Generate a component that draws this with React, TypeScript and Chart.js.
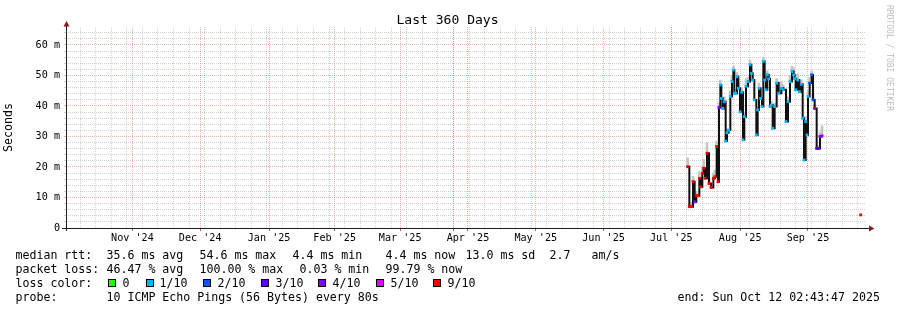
import React, { useEffect, useRef } from "react";
import { Chart, registerables } from "chart.js";

Chart.register(...registerables);

// ---------- data ----------
const WINDOW_START = "2024-10-17T02:43:47Z"; // end time minus 360 days
const WINDOW_DAYS = 360;
const FIRST_SUNDAY = "2024-10-20";

const monthStarts = [
  "2024-11-01", "2024-12-01", "2025-01-01", "2025-02-01", "2025-03-01", "2025-04-01",
  "2025-05-01", "2025-06-01", "2025-07-01", "2025-08-01", "2025-09-01", "2025-10-01",
];
// label i sits in the middle of month i (between monthStarts[i] and monthStarts[i+1])
const monthLabels = [
  "Nov '24", "Dec '24", "Jan '25", "Feb '25", "Mar '25", "Apr '25",
  "May '25", "Jun '25", "Jul '25", "Aug '25", "Sep '25",
];

const yMajorValues = [0, 10, 20, 30, 40, 50, 60];
const yMajorLabels = ["0", "10 m", "20 m", "30 m", "40 m", "50 m", "60 m"];
const Y_MAX = 65.9;

// sample time: days after window start
const sampleDay = [
  279.75, 280.5, 281.4, 282.15, 282.9, 283.65, 284.4, 285.0, 285.6, 286.35,
  286.95, 287.55, 288.45, 289.35, 290.25, 291.3, 292.05, 292.8, 293.4, 293.85,
  294.45, 294.9, 295.5, 296.25, 296.85, 297.45, 298.2, 298.95, 299.7, 300.3,
  300.75, 301.35, 301.95, 302.55, 303.3, 304.05, 304.65, 305.25, 306.0, 306.9,
  307.8, 308.4, 309.0, 309.75, 310.65, 311.25, 311.85, 312.6, 313.2, 313.8,
  314.4, 315.0, 315.6, 316.2, 316.8, 317.4, 318.0, 318.9, 319.8, 320.7,
  321.9, 322.8, 324.0, 324.9, 325.8, 326.7, 327.45, 327.9, 328.35, 329.25,
  330.0, 330.9, 331.5, 332.1, 332.85, 333.45, 333.9, 334.65, 335.55, 336.15,
  336.9, 337.8, 338.7, 339.3, 340.2, 348.0, 357.6,
];
// median rtt in ms
const medianMs = [
  20.1, 7.0, 7.0, 15.2, 8.6, 10.6, 10.6, 16.3, 13.5, 17.9,
  19.6, 16.3, 24.5, 14.6, 13.3, 16.3, 16.8, 26.7, 15.2, 39.5,
  46.9, 42.5, 39.2, 41.4, 28.5, 31.2, 32.1, 43.1, 48.0, 51.8,
  44.2, 44.2, 49.6, 45.8, 38.1, 44.5, 28.9, 36.5, 46.5, 48.0,
  53.5, 50.7, 48.5, 42.0, 30.5, 38.7, 45.8, 42.5, 39.8, 54.6,
  48.5, 45.3, 50.2, 48.9, 39.8, 40.3, 32.7, 39.8, 47.5, 44.2,
  45.8, 45.3, 34.9, 41.4, 48.0, 51.3, 50.2, 49.0, 45.3, 48.5,
  44.7, 47.1, 36.0, 22.3, 34.9, 30.5, 43.1, 47.5, 50.2, 42.0,
  39.2, 26.1, 26.1, 30.0, 30.2, null, 4.3,
];
// upper edge of the light smoke (ms)
const smokeHighMs = [
  23.0, null, 8.5, 17.0, null, 12.0, null, 18.5, 15.0, 20.0,
  22.5, null, 28.0, 16.0, null, 18.0, 19.0, 28.5, null, 41.0,
  48.5, null, 40.5, 43.0, null, 32.5, null, 45.0, 50.0, 53.0,
  null, 45.5, 51.0, 47.5, null, 46.0, null, 38.0, 49.0, 49.5,
  55.0, 52.5, 50.0, null, null, 40.0, 47.5, null, null, 56.0,
  50.0, 47.0, 51.5, 50.5, null, 41.5, null, 41.0, 49.0, 46.5,
  48.0, 47.0, null, 43.0, 50.0, 53.0, 52.5, 50.5, 47.0, 50.5,
  46.0, 48.5, null, null, 36.5, null, 45.0, 49.5, 51.5, 44.0,
  40.5, null, 27.0, 31.5, 33.5, null, null,
];
// packet loss in tenths (10 pings)
const lossTenths = [
  9, 9, 9, 9, 4, 9, 9, 9, 9, 9,
  9, 9, 9, 9, 9, 9, 9, 9, 9, 4,
  1, 1, 1, 1, 1, 1, 1, 1, 1, 1,
  1, 1, 1, 1, 1, 1, 1, 1, 1, 1,
  1, 1, 1, 1, 1, 1, 1, 1, 1, 1,
  1, 1, 1, 1, 1, 1, 1, 1, 1, 1,
  1, 1, 1, 1, 1, 1, 1, 1, 1, 1,
  1, 1, 1, 1, 1, 1, 1, 2, 2, 2,
  4, 3, 3, 4, 4, null, 9,
];

const lossBucketLabels = ["0", "1/10", "2/10", "3/10", "4/10", "5/10", "9/10"];
const lossBucketLevels = [0, 1, 2, 3, 4, 5, 9];
const lossBucketColors = ["#26ff00", "#00b8ff", "#0059ff", "#5e00ff", "#7e00ff", "#dd00ff", "#ff0000"];

const titleText = "Last 360 Days";
const yTitle = "Seconds";
const watermark = "RRDTOOL / TOBI OETIKER";
const rttTexts = ["median rtt:", "35.6 ms avg", "54.6 ms max", "4.4 ms min", "4.4 ms now", "13.0 ms sd", "2.7", "am/s"];
const lossTexts = ["packet loss:", "46.47 % avg", "100.00 % max", "0.03 % min", "99.79 % now"];
const lossColorTitle = "loss color:";
const probeTexts = ["probe:", "10 ICMP Echo Pings (56 Bytes) every 80s"];
const endText = "end: Sun Oct 12 02:43:47 2025";

// ---------- layout / style ----------
const MONO = '"DejaVu Sans Mono", monospace';
const GRID = "rgba(143,143,143,0.4)";
const MGRID = "rgba(222,80,80,0.45)";
const ROW_TOP = [247.5, 261.5, 275.5, 289.5];
const RTT_X = [15.5, 106.5, 199.5, 292.5, 385.5, 465.5, 549.5, 591.5];
const LOSS_X = [15.5, 106.5, 199.5, 299.5, 385.5];
const BOX_X = [108, 145.5, 203, 260.5, 318, 376, 433];
const BOX_LABEL_X = [122.5, 159.5, 217.5, 275.5, 332.5, 390.5, 447.5];
const PROBE_X = [15.5, 106.5];
const END_X = 677.5;

const startMs = Date.parse(WINDOW_START);
const dayOf = (iso: string) => (Date.parse(iso + "T00:00:00Z") - startMs) / 86400000;

type XTick = { value: number; kind: "week" | "month" | "label"; label: string };
function buildXTicks(): XTick[] {
  const t: XTick[] = [];
  for (let d = dayOf(FIRST_SUNDAY); d <= WINDOW_DAYS; d += 7) t.push({ value: d, kind: "week", label: "" });
  monthLabels.forEach((lab, i) => {
    const mid = (dayOf(monthStarts[i]) + dayOf(monthStarts[i + 1])) / 2;
    if (mid > 0 && mid < WINDOW_DAYS) t.push({ value: mid, kind: "label", label: lab });
  });
  monthStarts.forEach((m) => {
    const d = dayOf(m);
    if (d > 0 && d < WINDOW_DAYS) t.push({ value: d, kind: "month", label: "" });
  });
  return t;
}

const decorPlugin = {
  id: "rrdDecor",
  afterDraw(chart: any) {
    const ctx = chart.ctx as CanvasRenderingContext2D;
    const { left, right, top, bottom } = chart.chartArea;
    ctx.save();
    ctx.strokeStyle = "#1f1f1f";
    ctx.lineWidth = 1;
    ctx.beginPath();
    ctx.moveTo(left - 4, bottom + 0.5);
    ctx.lineTo(right + 3, bottom + 0.5);
    ctx.stroke();
    ctx.beginPath();
    ctx.moveTo(left + 0.5, bottom + 3);
    ctx.lineTo(left + 0.5, top - 1);
    ctx.stroke();
    ctx.fillStyle = "#7f1f1f";
    ctx.beginPath();
    ctx.moveTo(right + 3, bottom + 0.5 - 3);
    ctx.lineTo(right + 8.5, bottom + 0.5);
    ctx.lineTo(right + 3, bottom + 0.5 + 3);
    ctx.closePath();
    ctx.fill();
    ctx.beginPath();
    ctx.moveTo(left + 0.5 - 3, top - 0.5);
    ctx.lineTo(left + 0.5, top - 6);
    ctx.lineTo(left + 0.5 + 3, top - 0.5);
    ctx.closePath();
    ctx.fill();
    // title
    ctx.fillStyle = "#000";
    ctx.font = `13.05px ${MONO}`;
    ctx.textAlign = "center";
    ctx.textBaseline = "alphabetic";
    ctx.fillText(titleText, 447.5, 23.5);
    // watermark
    ctx.translate(893, 5);
    ctx.rotate(Math.PI / 2);
    ctx.fillStyle = "rgba(0,0,0,0.28)";
    ctx.font = `8px ${MONO}`;
    ctx.textAlign = "left";
    ctx.textBaseline = "top";
    ctx.fillText(watermark, 0, 0);
    ctx.restore();
  },
};

export default function App() {
  const ref = useRef<HTMLCanvasElement>(null);
  useEffect(() => {
    const xTicks = buildXTicks();
    const yTickValues: number[] = [];
    for (let v = 0; v <= 64; v += 2) yTickValues.push(v);
    const colorOf = (lvl: number) => lossBucketColors[lossBucketLevels.indexOf(lvl)];

    const linePts = sampleDay.map((d, i) => ({ x: d, y: medianMs[i] }));
    const markIdx = sampleDay.map((_, i) => i).filter((i) => medianMs[i] !== null && lossTenths[i] !== null);
    const markPts = markIdx.map((i) => ({ x: sampleDay[i], y: medianMs[i] }));
    const markColors = markIdx.map((i) => colorOf(lossTenths[i] as number));
    const smokeIdx = sampleDay.map((_, i) => i).filter((i) => smokeHighMs[i] !== null && medianMs[i] !== null);
    const smokePts = smokeIdx.map((i) => ({ x: sampleDay[i], y: [medianMs[i] as number, smokeHighMs[i] as number] }));

    const tickFont = { family: MONO, size: 10.15 };
    const chart = new Chart(ref.current as HTMLCanvasElement, {
      type: "line",
      data: {
        datasets: [
          {
            type: "line",
            data: markPts,
            showLine: false,
            pointStyle: "rect",
            pointRadius: 2,
            pointBorderWidth: 0,
            pointBackgroundColor: markColors,
            pointBorderColor: markColors,
            order: 0,
          } as any,
          {
            type: "line",
            data: linePts,
            borderColor: "#111111",
            borderWidth: 2,
            pointRadius: 0,
            stepped: "before",
            spanGaps: false,
            order: 1,
          } as any,
          {
            type: "bar",
            data: smokePts,
            backgroundColor: "#c6c6c6",
            borderWidth: 0,
            barThickness: 2,
            order: 2,
          } as any,
        ],
      },
      options: {
        animation: false,
        responsive: false,
        maintainAspectRatio: false,
        events: [],
        layout: { padding: { left: 0, right: 31, top: 27, bottom: 0 } },
        plugins: { legend: { display: false }, tooltip: { enabled: false }, title: { display: false } },
        scales: {
          x: {
            type: "linear",
            min: 0,
            max: WINDOW_DAYS,
            offset: false,
            afterBuildTicks: (s: any) => {
              s.ticks = xTicks.map((t) => ({ value: t.value }));
            },
            afterFit: (s: any) => {
              s.height = 82;
            },
            ticks: {
              autoSkip: false,
              maxRotation: 0,
              minRotation: 0,
              padding: 1,
              color: "#000",
              font: tickFont,
              callback: (_v: any, i: number) => (xTicks[i] ? xTicks[i].label : ""),
            },
            grid: {
              lineWidth: 1,
              drawTicks: true,
              tickLength: 3,
              color: (c: any) => {
                const t = xTicks[c.index];
                if (!t) return "rgba(0,0,0,0)";
                return t.kind === "month" ? MGRID : t.kind === "week" ? GRID : "rgba(0,0,0,0)";
              },
              tickColor: (c: any) => {
                const t = xTicks[c.index];
                if (!t) return "rgba(0,0,0,0)";
                return t.kind === "month" ? "rgba(160,60,60,0.8)" : "rgba(0,0,0,0)";
              },
            },
            border: { display: false, dash: [1, 1] },
          } as any,
          y: {
            type: "linear",
            min: 0,
            max: Y_MAX,
            afterBuildTicks: (s: any) => {
              s.ticks = yTickValues.map((v) => ({ value: v }));
            },
            afterFit: (s: any) => {
              s.width = 66;
            },
            ticks: {
              autoSkip: false,
              padding: 4,
              color: "#000",
              font: tickFont,
              callback: (v: any) => {
                const k = yMajorValues.indexOf(Number(v));
                return k >= 0 ? yMajorLabels[k] : "";
              },
            },
            grid: {
              lineWidth: 1,
              drawTicks: true,
              tickLength: 2,
              color: (c: any) => (c.tick && c.tick.value % 10 === 0 ? MGRID : GRID),
              tickColor: (c: any) => (c.tick && c.tick.value % 10 === 0 ? MGRID : GRID),
            },
            border: { display: false, dash: [1, 1] },
            title: {
              display: true,
              text: yTitle,
              color: "#000",
              font: { family: MONO, size: 11.6 },
              padding: { top: 2, bottom: 0 },
            },
          } as any,
        },
      },
      plugins: [decorPlugin],
    } as any);
    return () => chart.destroy();
  }, []);

  const rowStyle = (top: number, left: number): React.CSSProperties => ({
    position: "absolute",
    top,
    left,
    whiteSpace: "pre",
    lineHeight: "14px",
    fontSize: "11.6px",
    fontFamily: MONO,
    color: "#000",
  });

  return (
    <div style={{ position: "absolute", left: 0, top: 0, width: 897, height: 310, background: "#fff", overflow: "hidden" }}>
      <canvas ref={ref} width={897} height={310} style={{ position: "absolute", left: 0, top: 0, width: 897, height: 310 }} />
      {rttTexts.map((t, i) => (
        <span key={"r" + i} style={rowStyle(ROW_TOP[0], RTT_X[i])}>{t}</span>
      ))}
      {lossTexts.map((t, i) => (
        <span key={"l" + i} style={rowStyle(ROW_TOP[1], LOSS_X[i])}>{t}</span>
      ))}
      <span style={rowStyle(ROW_TOP[2], 15.5)}>{lossColorTitle}</span>
      {lossBucketLabels.map((t, i) => (
        <React.Fragment key={"b" + i}>
          <span
            style={{
              position: "absolute",
              left: BOX_X[i],
              top: ROW_TOP[2] + 3,
              width: 8,
              height: 8,
              boxSizing: "border-box",
              border: "1px solid #000",
              background: lossBucketColors[i],
            }}
          />
          <span style={rowStyle(ROW_TOP[2], BOX_LABEL_X[i])}>{t}</span>
        </React.Fragment>
      ))}
      {probeTexts.map((t, i) => (
        <span key={"p" + i} style={rowStyle(ROW_TOP[3], PROBE_X[i])}>{t}</span>
      ))}
      <span style={rowStyle(ROW_TOP[3], END_X)}>{endText}</span>
    </div>
  );
}
